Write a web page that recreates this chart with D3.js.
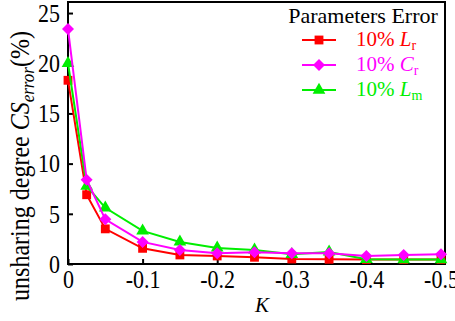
<!DOCTYPE html>
<html>
<head>
<meta charset="utf-8">
<script src="https://cdn.jsdelivr.net/npm/d3@7"></script>
<style>
  body { margin: 0; background: #fff; }
  svg, svg text, svg tspan { font-family: "Liberation Serif", "Times New Roman", Times, serif !important; }
</style>
</head>
<body>
<div class="chart"></div>
<script>
// data
var kValues = [0, -0.025, -0.05, -0.1, -0.15, -0.2, -0.25, -0.3, -0.35, -0.4, -0.45, -0.5];
var lrValues = [18.3, 6.9, 3.5, 1.56, 0.9, 0.8, 0.67, 0.5, 0.47, 0.45, 0.45, 0.45];
var crValues = [23.4, 8.4, 4.45, 2.2, 1.4, 1.06, 1.16, 1.06, 1.06, 0.8, 0.9, 0.96];
var lmValues = [20.0, 7.77, 5.6, 3.3, 2.2, 1.6, 1.4, 0.96, 1.2, 0.47, 0.45, 0.45];
var xTicks = [0, -0.1, -0.2, -0.3, -0.4, -0.5];
var yTicks = [0, 5, 10, 15, 20, 25];

// 菱形 = 旋转45度的正方形
var symbolDiamondSq = {
  draw: function (ctx, size) {
    var r = Math.sqrt(size / 2);
    ctx.moveTo(0, -r);
    ctx.lineTo(r, 0);
    ctx.lineTo(0, r);
    ctx.lineTo(-r, 0);
    ctx.closePath();
  },
};

var series = [
  { name: "L", sub: "r", color: "#ff0000", symbol: d3.symbolSquare, size: 78, values: lrValues },
  { name: "L", sub: "m", color: "#00ee00", symbol: d3.symbolTriangle, size: 70, values: lmValues },
  { name: "C", sub: "r", color: "#ff00ff", symbol: symbolDiamondSq, size: 72, values: crValues },
];
var legendOrder = [0, 2, 1];

var width = 455;
var height = 321;
var svg = d3
  .select(".chart")
  .append("svg")
  .attr("width", width)
  .attr("height", height);

// 比例尺
var x = d3.scaleLinear().domain([0, -0.5]).range([68, 441]);
var y = d3.scaleLinear().domain([0, 26.1]).range([264, 2]);

var stretch = 1.18; // 原图文字偏高

// 坐标轴
var xAxis = d3.axisBottom(x).tickValues(xTicks).tickSize(-5)
  .tickFormat((d) => (d === 0 ? "0" : d.toFixed(1)));
var yAxis = d3.axisLeft(y).tickValues(yTicks).tickSize(-5).tickPadding(8);

function styleAxis(g) {
  g.attr("font-size", 22);
  g.select(".domain").remove();
  g.selectAll("line").attr("stroke-width", 2);
  g.selectAll("text").attr("fill", "#000").attr("transform", "scale(1," + stretch + ")");
}

svg.append("g")
  .attr("transform", "translate(0,264)")
  .call(xAxis)
  .call(styleAxis)
  .call((g) => g.selectAll("text").attr("y", 24.5 / stretch).attr("dy", 0));

svg.append("g")
  .attr("transform", "translate(68,0)")
  .call(yAxis)
  .call(styleAxis);

// 边框
svg.append("rect")
  .attr("x", 68).attr("y", 2)
  .attr("width", 445 - 68).attr("height", 264 - 2)
  .attr("fill", "none").attr("stroke", "#000").attr("stroke-width", 2);

// 折线
var line = d3.line()
  .x((d, i) => x(kValues[i]))
  .y((d) => y(d));

series.forEach(function (s) {
  svg.append("path")
    .datum(s.values)
    .attr("fill", "none")
    .attr("stroke", s.color)
    .attr("stroke-width", 2)
    .attr("d", line);
  svg.selectAll(null)
    .data(s.values)
    .enter()
    .append("path")
    .attr("d", d3.symbol().type(s.symbol).size(s.size))
    .attr("transform", (d, i) => "translate(" + x(kValues[i]) + "," + y(d) + ")")
    .attr("fill", s.color);
});

// 图例
var legend = svg.append("g");
legend.append("text")
  .attr("x", 363).attr("y", 23)
  .attr("text-anchor", "middle")
  .attr("font-size", 22)
  .text("Parameters Error");

legendOrder.forEach(function (idx, row) {
  var s = series[idx];
  var ly = 40 + row * 25;
  legend.append("line")
    .attr("x1", 302).attr("x2", 336)
    .attr("y1", ly).attr("y2", ly)
    .attr("stroke", s.color).attr("stroke-width", 2);
  legend.append("path")
    .attr("d", d3.symbol().type(s.symbol).size(s.size)())
    .attr("transform", "translate(319," + ly + ")")
    .attr("fill", s.color);
  var t = legend.append("text")
    .attr("x", 356).attr("y", ly + 6)
    .attr("font-size", 21)
    .attr("fill", s.color);
  t.append("tspan").text("10% ");
  t.append("tspan").attr("font-style", "italic").text(s.name);
  t.append("tspan").attr("font-size", 14).attr("dy", 4).text(s.sub);
});

// 轴标题
svg.append("text")
  .attr("x", 262).attr("y", 312)
  .attr("text-anchor", "middle")
  .attr("font-size", 21)
  .attr("font-style", "italic")
  .text("K");

var yl = svg.append("text")
  .attr("transform", "translate(29,166) rotate(-90) scale(1,1.15)")
  .attr("text-anchor", "middle")
  .attr("font-size", 24);
yl.append("tspan").text("unsharing degree ");
yl.append("tspan").attr("font-style", "italic").text("CS");
yl.append("tspan").attr("font-style", "italic").attr("font-size", 17).attr("dy", 4).text("error");
yl.append("tspan").attr("dy", -4).text("(%)");
</script>
</body>
</html>
